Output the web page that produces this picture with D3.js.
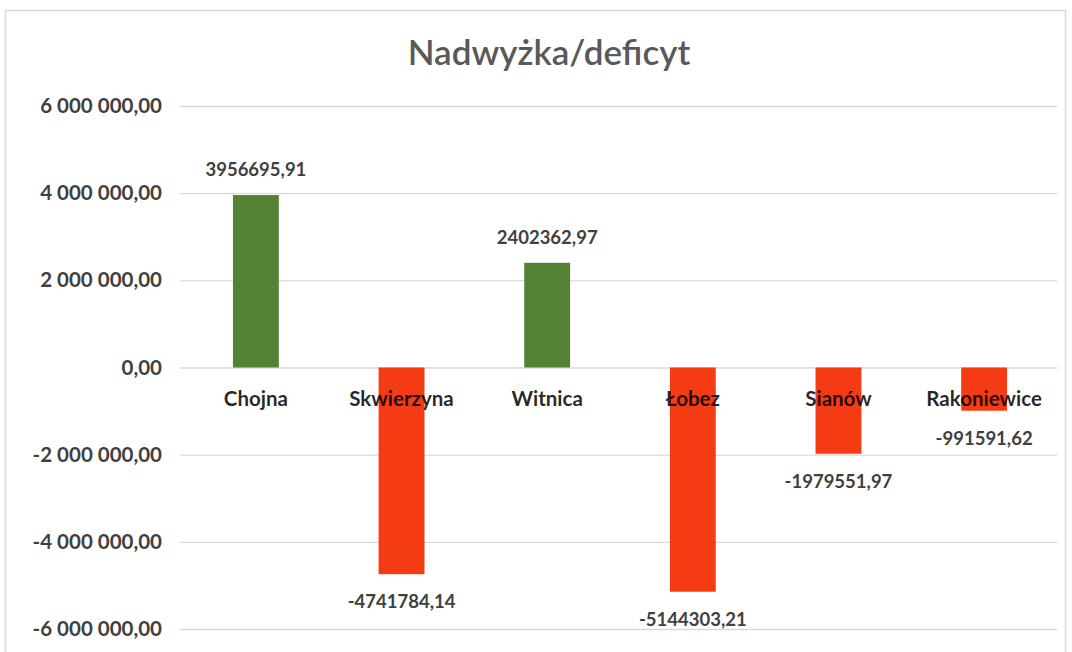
<!DOCTYPE html>
<html><head><meta charset="utf-8">
<script src="https://cdn.jsdelivr.net/npm/d3@7"></script>
<style>body{margin:0;background:#fff}svg{display:block}</style>
</head><body>
<svg id="c" width="1072" height="652"></svg>
<script>
const categories = ["Chojna","Skwierzyna","Witnica","Łobez","Sianów","Rakoniewice"];
const values = [3956695.91,-4741784.14,2402362.97,-5144303.21,-1979551.97,-991591.62];
const valueLabels = ["3956695,91","-4741784,14","2402362,97","-5144303,21","-1979551,97","-991591,62"];
const yTicks = [6000000,4000000,2000000,0,-2000000,-4000000,-6000000];
const yTickLabels = ["6 000 000,00","4 000 000,00","2 000 000,00","0,00","-2 000 000,00","-4 000 000,00","-6 000 000,00"];
const title = "Nadwyżka/deficyt";

const svg = d3.select("#c");
const F = "Lato, 'Open Sans', sans-serif";
svg.append("rect").attr("x",5.5).attr("y",10.5).attr("width",1060).attr("height",660)
  .attr("fill","#fff").attr("stroke","#d9d9d9").attr("stroke-width",1.5);

const y = d3.scaleLinear().domain([-6000000,6000000]).range([629,106]);
const x = d3.scaleBand().domain(categories).range([183,1057]).paddingInner(0.685).paddingOuter(0.343);

svg.append("text").attr("x",549).attr("y",65).attr("text-anchor","middle")
  .attr("font-family",F).attr("font-size",35).attr("font-weight",600).attr("fill","#595959").text(title);

const yAxis = d3.axisLeft(y).tickValues(yTicks).tickSize(-(1057-180)).tickFormat((d,i)=>yTickLabels[i]);
const ga = svg.append("g").attr("transform","translate(180,0)").call(yAxis);
ga.select(".domain").remove();
ga.selectAll(".tick line").attr("stroke","#d9d9d9").attr("stroke-width",1.3);
ga.selectAll(".tick text").attr("x",-18).attr("font-family",F).attr("font-size",20.5).attr("font-weight",700).attr("fill","#404040");

svg.append("g").selectAll("rect").data(values).join("rect")
  .attr("x",(d,i)=>x(categories[i])).attr("width",x.bandwidth())
  .attr("y",d=>y(Math.max(0,d))).attr("height",d=>Math.abs(y(d)-y(0)))
  .attr("fill",d=>d>=0?"#548235":"#f43b14");

// category labels
svg.append("g").selectAll("text").data(categories).join("text")
  .attr("x",d=>x(d)+x.bandwidth()/2).attr("y",406).attr("text-anchor","middle")
  .attr("font-family",F).attr("font-size",20.5).attr("font-weight",700).attr("fill","#000").attr("fill-opacity",0.85).text(d=>d);

svg.append("g").selectAll("text").data(values).join("text")
  .attr("x",(d,i)=>x(categories[i])+x.bandwidth()/2)
  .attr("y",d=>d>=0?y(d)-19:y(d)+34).attr("text-anchor","middle")
  .attr("font-family",F).attr("font-size",18.5).attr("font-weight",700).attr("fill","#404040")
  .text((d,i)=>valueLabels[i]);
</script>
</body></html>
